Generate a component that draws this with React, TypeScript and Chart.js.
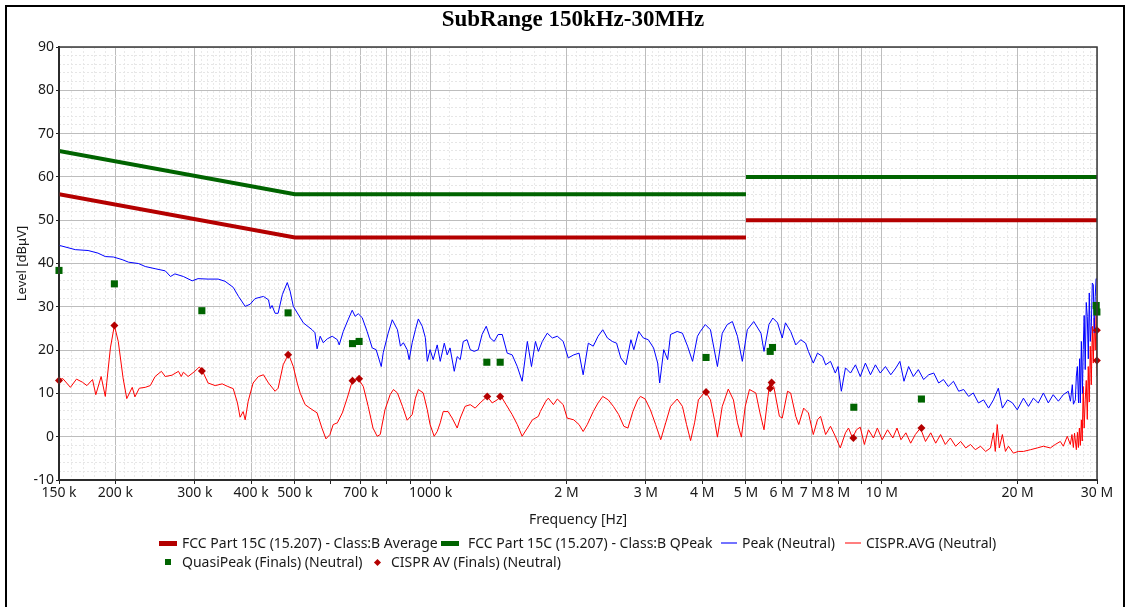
import React, { useEffect, useRef } from 'react';
import { Chart, registerables } from 'chart.js';

Chart.register(...registerables);

const FONT = '"Noto Sans", "Open Sans", sans-serif';

// ---------- tick labels ----------
const xTickValues = [150000, 200000, 300000, 400000, 500000, 600000, 700000, 800000, 900000, 1000000, 2000000, 3000000, 4000000, 5000000, 6000000, 7000000, 8000000, 9000000, 10000000, 20000000, 30000000];
const xTickLabels = ['150 k', '200 k', '300 k', '400 k', '500 k', '', '700 k', '', '', '1000 k', '2 M', '3 M', '4 M', '5 M', '6 M', '7 M', '8 M', '', '10 M', '20 M', '30 M'];

// ---------- limit lines ----------
const limitFreqHz = [150000, 500000, 5000000, 5000000, 5000000, 30000000];
const avgLimit = [56, 46, 46, null, 50, 50];
const qpLimit = [66, 56, 56, null, 60, 60];

// ---------- Peak (Neutral) trace: frequency kHz / level dBµV ----------
const peakFreqKHz = [150, 163, 174, 183, 190, 198, 207, 214, 225, 233, 245, 258, 265, 271, 283, 296, 305, 321, 338, 350, 365, 375, 388, 398, 408, 426, 437, 441, 445, 452, 459, 469, 481, 488, 496, 522, 546, 554, 560, 569, 578, 590, 605, 621, 627, 640, 656, 670, 680, 691, 705, 723, 742, 757, 777, 785, 805, 822, 844, 857, 870, 887, 896, 910, 925, 939, 958, 973, 983, 997, 1013, 1034, 1050, 1072, 1088, 1104, 1128, 1145, 1163, 1181, 1204, 1224, 1249, 1275, 1300, 1328, 1355, 1383, 1411, 1441, 1478, 1516, 1556, 1595, 1638, 1673, 1707, 1733, 1768, 1813, 1861, 1909, 1967, 2018, 2076, 2133, 2178, 2236, 2293, 2350, 2407, 2465, 2527, 2583, 2639, 2709, 2779, 2821, 2891, 2961, 3037, 3120, 3186, 3219, 3286, 3352, 3402, 3519, 3615, 3711, 3807, 3903, 3960, 4063, 4171, 4322, 4430, 4544, 4665, 4787, 4908, 5034, 5202, 5398, 5482, 5622, 5734, 5874, 6017, 6116, 6281, 6447, 6612, 6778, 6877, 7050, 7202, 7393, 7508, 7698, 7889, 8000, 8135, 8309, 8526, 8744, 8961, 9198, 9440, 9681, 9923, 10190, 10470, 10750, 10970, 11200, 11470, 11750, 12050, 12380, 12710, 13040, 13370, 13700, 14040, 14420, 14810, 15190, 15580, 15950, 16380, 16820, 17250, 17680, 18130, 18510, 19000, 19490, 19970, 20610, 21140, 21680, 22230, 22820, 23400, 23990, 24630, 25260, 25910, 26200, 26450, 26600, 26860, 27000, 27140, 27300, 27450, 27550, 27700, 27850, 27960, 28100, 28250, 28400, 28550, 28700, 28840, 28990, 29140, 29290, 29440, 29580, 29730, 29860, 30000];
const peakLevel = [44.2, 43.2, 43.0, 42.4, 41.6, 41.5, 40.9, 40.3, 40.0, 39.3, 38.8, 38.3, 37.0, 37.6, 37.0, 36.0, 36.5, 36.4, 36.4, 35.9, 34.5, 32.4, 30.1, 30.6, 31.9, 32.4, 31.6, 29.6, 30.3, 28.5, 28.5, 32.8, 35.6, 33.6, 30.1, 26.3, 24.7, 24.0, 20.3, 23.2, 21.7, 22.6, 23.2, 22.4, 21.2, 24.3, 27.0, 29.2, 27.8, 28.4, 27.5, 24.3, 20.5, 20.1, 16.2, 19.4, 23.9, 27.0, 24.7, 20.9, 21.7, 20.1, 17.8, 21.7, 24.7, 27.2, 25.5, 22.9, 17.4, 20.1, 17.8, 21.2, 17.4, 21.6, 18.9, 20.5, 15.1, 18.5, 17.8, 22.0, 22.4, 20.1, 19.7, 20.1, 23.6, 25.5, 22.8, 22.0, 23.6, 23.6, 19.3, 18.9, 16.2, 12.8, 22.0, 16.2, 22.0, 19.7, 22.0, 23.9, 22.8, 23.2, 22.0, 18.2, 18.9, 19.3, 14.3, 21.6, 20.9, 23.2, 24.7, 22.8, 22.0, 21.6, 18.2, 16.6, 22.4, 20.1, 24.3, 22.8, 22.4, 20.5, 17.0, 12.4, 20.1, 17.8, 23.6, 24.3, 23.9, 20.9, 17.4, 23.2, 24.3, 25.9, 24.7, 16.2, 23.9, 25.9, 26.6, 23.2, 17.4, 24.7, 26.6, 23.9, 19.7, 25.9, 27.4, 26.3, 22.8, 26.3, 24.3, 21.2, 22.4, 21.6, 19.7, 17.0, 19.3, 18.5, 16.6, 17.4, 14.7, 16.2, 10.5, 15.9, 14.7, 16.6, 13.9, 17.0, 14.3, 16.6, 14.7, 16.2, 14.3, 15.9, 17.4, 12.8, 16.2, 13.9, 15.5, 13.2, 14.3, 14.7, 12.4, 13.2, 11.6, 12.8, 10.5, 10.9, 9.3, 10.1, 7.8, 8.5, 6.6, 8.5, 11.2, 6.6, 8.5, 7.8, 6.2, 8.9, 7.0, 8.9, 7.8, 10.1, 7.8, 9.7, 8.2, 9.7, 10.5, 8.2, 12.0, 7.5, 8.5, 14.0, 16.2, 7.8, 18.0, 7.8, 22.0, 10.0, 20.1, 28.0, 15.5, 31.0, 27.8, 18.0, 33.2, 22.0, 25.5, 35.5, 35.1, 24.0, 32.4, 36.5, 36.3];

// ---------- CISPR.AVG (Neutral) trace ----------
const avgFreqKHz = [150, 153, 159, 164, 169, 173, 178, 181, 186, 190, 195, 199, 203, 208, 212, 218, 221, 226, 233, 239, 245, 253, 258, 267, 276, 280, 283, 290, 300, 307, 312, 321, 333, 345, 355, 365, 373, 378, 384, 388, 394, 404, 415, 426, 437, 452, 459, 471, 484, 496, 506, 514, 527, 540, 560, 574, 586, 598, 608, 621, 637, 653, 670, 691, 709, 727, 745, 761, 773, 792, 813, 827, 844, 866, 887, 910, 925, 939, 963, 983, 997, 1018, 1034, 1050, 1066, 1093, 1116, 1145, 1163, 1192, 1224, 1255, 1287, 1335, 1369, 1404, 1433, 1470, 1516, 1556, 1595, 1638, 1681, 1733, 1750, 1800, 1823, 1871, 1909, 1967, 2007, 2076, 2133, 2178, 2224, 2293, 2350, 2407, 2476, 2541, 2611, 2681, 2737, 2807, 2877, 2919, 2989, 3070, 3153, 3236, 3319, 3402, 3519, 3615, 3692, 3769, 3846, 3922, 4063, 4171, 4257, 4322, 4430, 4568, 4690, 4787, 4884, 4981, 5090, 5258, 5370, 5482, 5594, 5650, 5762, 5930, 6017, 6182, 6281, 6447, 6546, 6712, 6877, 7050, 7202, 7317, 7508, 7698, 7889, 8091, 8309, 8439, 8613, 8787, 8961, 9150, 9343, 9585, 9778, 10020, 10300, 10580, 10810, 11030, 11310, 11590, 11870, 12180, 12500, 12840, 13170, 13500, 13830, 14190, 14580, 14960, 15350, 15730, 16120, 16560, 16990, 17420, 17680, 17850, 18030, 18220, 18510, 18800, 19090, 19580, 20070, 20610, 21360, 22110, 22820, 23640, 24240, 24880, 25260, 25780, 26180, 26400, 26590, 26750, 27000, 27150, 27280, 27420, 27550, 27700, 27820, 27960, 28100, 28250, 28400, 28550, 28690, 28840, 28990, 29140, 29290, 29440, 29580, 29730, 29880, 30000];
const avgLevel = [13.2, 13.4, 11.4, 13.3, 12.6, 11.8, 13.2, 9.7, 13.9, 9.3, 20.5, 25.7, 22.0, 13.6, 8.8, 11.4, 9.2, 11.2, 11.4, 11.8, 13.9, 15.1, 13.9, 14.2, 15.1, 13.9, 14.9, 13.9, 15.1, 16.1, 15.2, 12.4, 11.8, 12.2, 11.6, 11.1, 7.8, 4.5, 5.8, 3.9, 8.2, 12.4, 13.9, 14.3, 12.4, 10.5, 11.2, 16.6, 19.1, 16.2, 12.4, 10.0, 7.4, 6.6, 5.5, 2.0, -0.5, 0.5, 2.8, 3.2, 5.5, 8.9, 12.8, 13.4, 11.6, 7.0, 2.0, 0.1, 0.5, 6.2, 9.7, 10.9, 10.1, 7.0, 3.8, 5.1, 8.9, 10.9, 10.1, 6.2, 2.8, 0.1, 1.2, 3.2, 5.8, 5.8, 4.3, 2.0, 4.3, 7.0, 7.4, 6.6, 7.8, 9.3, 7.8, 8.5, 9.3, 7.4, 5.1, 2.8, 0.1, 2.0, 3.9, 4.7, 5.8, 8.2, 8.9, 7.4, 8.7, 7.4, 4.3, 3.9, 2.8, 1.2, 2.8, 5.8, 7.8, 9.3, 8.5, 7.0, 5.1, 2.4, 2.0, 5.8, 8.5, 9.3, 8.7, 6.2, 2.8, -0.7, 3.2, 7.0, 8.7, 7.0, 2.8, -0.9, 3.2, 8.5, 10.5, 8.5, 3.9, -0.1, 7.0, 11.0, 8.5, 3.2, -0.1, 7.0, 10.9, 10.1, 5.5, 1.6, 9.3, 12.4, 11.6, 4.7, 4.3, 10.5, 10.1, 4.7, 2.8, 6.6, 5.5, 0.5, 3.9, 4.7, 0.5, 2.4, 0.1, -2.6, 0.9, 2.0, -0.3, 1.6, 2.2, -1.8, 1.6, -0.3, 2.0, -0.7, 1.6, -0.3, 2.0, -0.7, 0.9, -1.5, 0.5, 2.0, -1.1, 0.9, -1.5, 0.5, -1.8, -0.3, -2.2, -1.1, -2.6, -1.8, -3.0, -2.2, -3.4, -2.6, 0.9, -3.4, 2.8, -2.6, 0.5, -3.4, -2.2, -3.8, -3.4, -3.4, -3.0, -2.6, -2.2, -2.6, -1.8, -1.1, -2.2, 0.1, -1.8, 0.5, -2.5, 0.8, -3.0, 1.0, -2.5, 2.0, -2.0, 3.9, -1.0, 11.6, 2.0, 8.5, 13.0, 4.0, 16.2, 8.0, 20.9, 12.0, 25.5, 17.0, 27.4, 20.0, 28.5, 14.0];

// ---------- final measurements ----------
const qpFreqKHz = [150, 199, 311, 483, 671, 694, 1332, 1426, 4078, 5658, 5725, 8670, 12244, 29880, 29985];
const qpLevel = [38.4, 35.3, 29.1, 28.6, 21.5, 22.0, 17.2, 17.2, 18.3, 19.7, 20.6, 6.8, 8.7, 30.3, 28.8];
const avFreqKHz = [150, 199, 311, 483, 671, 694, 1335, 1426, 4078, 5658, 5700, 8650, 12244, 29980, 29980];
const avLevel = [13.0, 25.7, 15.2, 18.9, 12.9, 13.4, 9.3, 9.3, 10.3, 11.2, 12.5, -0.3, 2.0, 24.6, 17.6];

const AVG_LIMIT_COLOR = '#b40000';
const QP_LIMIT_COLOR = '#006400';
const PEAK_COLOR = '#0000ff';
const AVG_COLOR = '#ff0000';

function pairs(freqKHz: number[], levels: number[]) {
  return freqKHz.map((f, i) => ({ x: f * 1000, y: levels[i] }));
}

function buildMinorX(): number[] {
  const out: number[] = [];
  for (const dec of [1e5, 1e6, 1e7]) {
    let m = 1;
    while (m < 9.95) {
      const step = m < 4.99 ? 0.1 : 0.2;
      m = Math.round((m + step) * 10) / 10;
      const v = m * dec;
      if (v > 150000 && v < 30000000 && Math.abs(m - Math.round(m)) > 1e-6) out.push(v);
    }
  }
  return out;
}

function buildMinorY(): number[] {
  const out: number[] = [];
  for (let v = -8; v < 90; v += 2) if (v % 10 !== 0) out.push(v);
  return out;
}

const frame = {
  id: 'frame',
  afterDatasetsDraw(chart: any) {
    const { ctx, chartArea: a } = chart;
    ctx.save();
    ctx.strokeStyle = '#3a3a3a';
    ctx.lineWidth = 1.5;
    ctx.strokeRect(a.left, a.top, a.right - a.left, a.bottom - a.top);
    ctx.restore();
  },
};

export default function App() {
  const ref = useRef<HTMLCanvasElement | null>(null);

  useEffect(() => {
    const xMinor = buildMinorX();
    const yMinor = buildMinorY();
    const limitData = (vals: (number | null)[]) => limitFreqHz.map((f, i) => ({ x: f, y: vals[i] }));
    const chart = new Chart(ref.current as HTMLCanvasElement, {
      type: 'scatter',
      data: {
        datasets: [
          {
            label: 'QuasiPeak (Finals) (Neutral)',
            data: pairs(qpFreqKHz, qpLevel),
            showLine: false,
            pointStyle: 'rect',
            pointRadius: 5,
            backgroundColor: '#006400',
            borderColor: '#006400',
            borderWidth: 0,
            clip: false,
          },
          {
            label: 'CISPR AV (Finals) (Neutral)',
            data: pairs(avFreqKHz, avLevel),
            showLine: false,
            pointStyle: 'rectRot',
            pointRadius: 4,
            backgroundColor: '#b40000',
            borderColor: '#b40000',
            borderWidth: 0,
            clip: false,
          },
          {
            label: 'Peak (Neutral)',
            data: pairs(peakFreqKHz, peakLevel),
            showLine: true,
            borderColor: PEAK_COLOR,
            borderWidth: 1,
            pointRadius: 0,
            tension: 0,
          },
          {
            label: 'CISPR.AVG (Neutral)',
            data: pairs(avgFreqKHz, avgLevel),
            showLine: true,
            borderColor: AVG_COLOR,
            borderWidth: 1,
            pointRadius: 0,
            tension: 0,
          },
          {
            label: 'FCC Part 15C (15.207) - Class:B QPeak',
            data: limitData(qpLimit),
            showLine: true,
            spanGaps: false,
            borderColor: QP_LIMIT_COLOR,
            borderWidth: 4,
            pointRadius: 0,
            borderCapStyle: 'butt',
          },
          {
            label: 'FCC Part 15C (15.207) - Class:B Average',
            data: limitData(avgLimit),
            showLine: true,
            spanGaps: false,
            borderColor: AVG_LIMIT_COLOR,
            borderWidth: 4,
            pointRadius: 0,
            borderCapStyle: 'butt',
          },
        ],
      },
      options: {
        responsive: false,
        animation: false,
        events: [],
        layout: { padding: { left: 0, right: 31, top: 47, bottom: 77 } },
        plugins: {
          legend: { display: false },
          tooltip: { enabled: false },
          title: { display: false },
        },
        scales: {
          x: {
            type: 'logarithmic',
            position: 'bottom',
            min: 150000,
            max: 30000000,
            weight: 0,
            afterBuildTicks: (s: any) => {
              s.ticks = xTickValues.map((v) => ({ value: v }));
            },
            afterFit: (s: any) => {
              s.height = 50;
            },
            ticks: {
              autoSkip: false,
              maxRotation: 0,
              minRotation: 0,
              padding: 1,
              color: '#1a1a1a',
              font: { family: FONT, size: 14 },
              callback: (_v: any, i: number) => xTickLabels[i],
            },
            grid: { color: '#bdbdbd', lineWidth: 1, tickLength: 4, tickColor: '#222' },
            border: { color: '#000', width: 2 },
            title: {
              display: true,
              text: 'Frequency [Hz]',
              color: '#1a1a1a',
              font: { family: FONT, size: 14 },
              padding: { top: 0, bottom: 1.6 },
            },
          },
          x2: {
            type: 'logarithmic',
            position: 'bottom',
            min: 150000,
            max: 30000000,
            weight: -1,
            afterBuildTicks: (s: any) => {
              s.ticks = xMinor.map((v) => ({ value: v }));
            },
            afterFit: (s: any) => {
              s.height = 0;
            },
            ticks: { display: false },
            grid: { color: '#e9e9e9', lineWidth: 1, drawTicks: false },
            border: { display: false, dash: [2, 2] },
          },
          y: {
            type: 'linear',
            position: 'left',
            min: -10,
            max: 90,
            weight: 0,
            afterBuildTicks: (s: any) => {
              const t = [];
              for (let v = -10; v <= 90; v += 10) t.push({ value: v });
              s.ticks = t;
            },
            afterFit: (s: any) => {
              s.width = 59;
            },
            ticks: {
              padding: 2,
              color: '#1a1a1a',
              font: { family: FONT, size: 14 },
            },
            grid: { color: '#bdbdbd', lineWidth: 1, tickLength: 3, tickColor: '#222' },
            border: { color: '#000', width: 2 },
            title: {
              display: true,
              text: 'Level [dBμV]',
              color: '#1a1a1a',
              font: { family: FONT, size: 13 },
              padding: { top: 14, bottom: 0 },
            },
          },
          y2: {
            type: 'linear',
            position: 'left',
            min: -10,
            max: 90,
            weight: -1,
            afterBuildTicks: (s: any) => {
              s.ticks = yMinor.map((v) => ({ value: v }));
            },
            afterFit: (s: any) => {
              s.width = 0;
            },
            ticks: { display: false },
            grid: { color: '#e6e6e6', lineWidth: 1, drawTicks: false },
            border: { display: false, dash: [2, 2] },
          },
        },
      } as any,
      plugins: [frame],
    } as any);
    return () => chart.destroy();
  }, []);

  const textStyle: React.CSSProperties = {
    position: 'absolute',
    fontFamily: FONT,
    fontSize: 14,
    color: '#1a1a1a',
    lineHeight: '18px',
    height: 18,
    whiteSpace: 'nowrap',
  };
  const row1 = 543;
  const row2 = 562;

  return (
    <div style={{ position: 'fixed', left: 0, top: 0, width: 1128, height: 607, overflow: 'hidden', background: '#fff' }}>
      <canvas ref={ref} width={1128} height={607} style={{ position: 'absolute', left: 0, top: 0, width: 1128, height: 607 }} />
      <div style={{ position: 'absolute', left: 5, top: 5, width: 1120, height: 640, border: '2px solid #000', boxSizing: 'border-box', pointerEvents: 'none' }} />
      <div style={{ position: 'absolute', left: 0, top: 5, width: 1146, textAlign: 'center', fontFamily: '"Liberation Serif", "DejaVu Serif", serif', fontWeight: 'bold', fontSize: 23, lineHeight: '28px', color: '#000' }}>
        SubRange 150kHz-30MHz
      </div>
      {/* legend row 1 */}
      <div style={{ position: 'absolute', left: 159, top: row1 - 2.5, width: 18, height: 5, background: AVG_LIMIT_COLOR }} />
      <div style={{ ...textStyle, left: 182, top: row1 - 9 }}>FCC Part 15C (15.207) - Class:B Average</div>
      <div style={{ position: 'absolute', left: 441, top: row1 - 2.5, width: 18, height: 5, background: QP_LIMIT_COLOR }} />
      <div style={{ ...textStyle, left: 468, top: row1 - 9 }}>FCC Part 15C (15.207) - Class:B QPeak</div>
      <div style={{ position: 'absolute', left: 721, top: row1 - 1, width: 16, height: 2, background: 'rgba(0,0,255,0.55)' }} />
      <div style={{ ...textStyle, left: 742, top: row1 - 9 }}>Peak (Neutral)</div>
      <div style={{ position: 'absolute', left: 845, top: row1 - 1, width: 16, height: 2, background: 'rgba(255,0,0,0.5)' }} />
      <div style={{ ...textStyle, left: 866, top: row1 - 9 }}>CISPR.AVG (Neutral)</div>
      {/* legend row 2 */}
      <div style={{ position: 'absolute', left: 165, top: row2 - 3, width: 6, height: 6, background: '#006400' }} />
      <div style={{ ...textStyle, left: 182, top: row2 - 9 }}>QuasiPeak (Finals) (Neutral)</div>
      <div style={{ position: 'absolute', left: 374.5, top: row2 - 2.5, width: 5, height: 5, background: '#b40000', transform: 'rotate(45deg)' }} />
      <div style={{ ...textStyle, left: 391, top: row2 - 9 }}>CISPR AV (Finals) (Neutral)</div>
    </div>
  );
}
